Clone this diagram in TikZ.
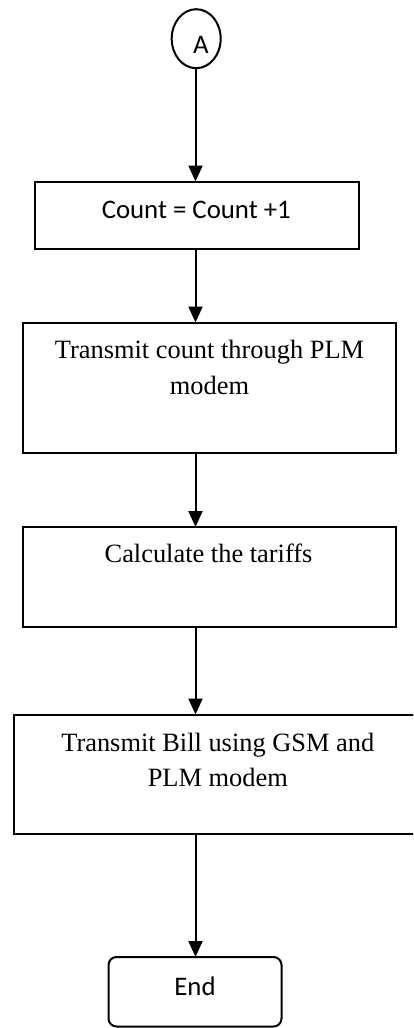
\documentclass[tikz,border=0pt]{standalone}
\usepackage{fontspec}
\setmainfont{Liberation Serif}
\newfontfamily\calibri{Carlito}
\usetikzlibrary{arrows.meta,shapes.geometric}
\begin{document}
\begin{tikzpicture}[x=1pt,y=-1pt,
  box/.style={draw, line width=2pt, inner sep=0pt, outer sep=0pt, rectangle},
  serif/.style={font=\fontsize{26.4}{35.6}\selectfont, align=center, inner sep=0pt, anchor=base},
  sans/.style={font=\calibri\fontsize{26.8}{32}\selectfont, inner sep=0pt, anchor=base},
  flow/.style={line width=2pt, -{Triangle[length=16pt,width=14pt]}}]
\useasboundingbox (0,0) rectangle (413,1028);
\clip (0,0) rectangle (413,1028);

% connector and flow boxes (two-line labels are placed by their last baseline)
\node[draw, ellipse, line width=2pt, inner sep=0pt, outer sep=0pt,
      minimum width=49pt, minimum height=59pt] (conn) at (196.2,38.7) {};
\node[sans] (connA) at (201,53.3) {A};

\node[box, minimum width=324pt, minimum height=67pt] (b1) at (197,215) {};
\node[sans] (t1) at (196.3,218.3) {Count = Count +1};

\node[box, minimum width=372.5pt, minimum height=130pt] (b2) at (209.25,387.5) {};
\node[serif] (t2) at (209.5,394.5) {Transmit count through PLM\\modem};

\node[box, minimum width=372.5pt, minimum height=99.5pt] (b3) at (209.25,576.75) {};
\node[serif] (t3) at (208.5,562.7) {Calculate the tariffs};

\node[box, minimum width=408.5pt, minimum height=119.5pt] (b4) at (217.75,774.25) {};
\node[serif] (t4) at (217.8,786.7) {Transmit Bill using GSM and\\PLM modem};

\node[box, rounded corners=8pt, minimum width=173pt, minimum height=69.5pt] (endb) at (195,991.75) {};
\node[sans] (tend) at (195,995.7) {End};

% vertical spine of the flow
\coordinate (spine) at (195.5,0);

\draw[flow] (conn.south -| spine) -- (b1.north -| spine);
\draw[flow] (b1.south -| spine) -- (b2.north -| spine);
\draw[flow] (b2.south -| spine) -- (b3.north -| spine);
\draw[flow] (b3.south -| spine) -- (b4.north -| spine);
\draw[flow] (b4.south -| spine) -- (endb.north -| spine);
\end{tikzpicture}
\end{document}
